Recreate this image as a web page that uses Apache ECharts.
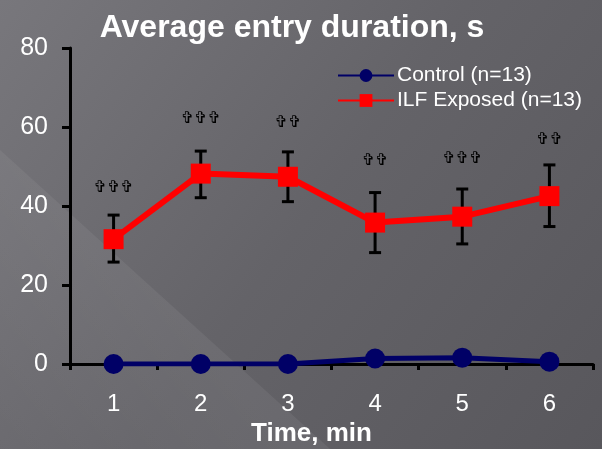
<!DOCTYPE html>
<html>
<head>
<meta charset="utf-8">
<script src="https://cdn.jsdelivr.net/npm/echarts@6/dist/echarts.min.js"></script>
<style>
  html, body { margin: 0; padding: 0; background: #626166; }
  #chart { width: 602px; height: 449px; }
</style>
</head>
<body>
<div id="chart"></div>
<script>
// Time bins (minutes)
const minutes = ['1', '2', '3', '4', '5', '6'];
// Average entry duration (s)
const controlMean = [0, 0, 0, 1.4, 1.6, 0.6];
const exposedMean = [31.6, 48.2, 47.4, 35.8, 37.3, 42.5];
// Error bar extents for the exposed group
const exposedUpper = [37.7, 53.9, 53.7, 43.4, 44.3, 50.4];
const exposedLower = [25.8, 42.1, 41.1, 28.2, 30.4, 34.8];
// Significance markers and their heights
const sigMarks = ['***', '***', '**', '**', '***', '**'];
const sigHeight = [44.6, 62, 61, 51.4, 51.9, 56.7];

const FONT = '"Liberation Sans", Arial, sans-serif';

const chart = echarts.init(document.getElementById('chart'), null, { renderer: 'canvas' });

const errorData = minutes.map((m, i) => [i, exposedLower[i], exposedUpper[i]]);
const sigData = minutes.map((m, i) => [i, sigHeight[i], sigMarks[i]]);

chart.setOption({
  backgroundColor: 'transparent',
  animation: false,
  graphic: [
    {
      type: 'rect', z: -10, silent: true,
      shape: { x: 0, y: 0, width: 602, height: 449 },
      style: {
        fill: new echarts.graphic.LinearGradient(0, 0, 1, 1, [
          { offset: 0, color: '#78777c' },
          { offset: 0.5, color: '#646368' },
          { offset: 1, color: '#58575c' }
        ])
      }
    },
    {
      type: 'polygon', z: -9, silent: true,
      shape: { points: [[0, 150], [330, 449], [0, 449]] },
      style: {
        fill: new echarts.graphic.LinearGradient(0.5, 0.5, 0, 1, [
          { offset: 0, color: 'rgba(255,255,255,0.06)' },
          { offset: 1, color: 'rgba(255,255,255,0.01)' }
        ])
      }
    }
  ],
  title: {
    text: 'Average entry duration, s',
    left: 287,
    top: 7,
    textAlign: 'center',
    textStyle: { color: '#ffffff', fontFamily: FONT, fontWeight: 'bold', fontSize: 32 }
  },
  legend: {
    orient: 'vertical',
    left: 337,
    top: 65,
    padding: 0,
    itemWidth: 56,
    itemHeight: 16,
    itemGap: 4,
    textStyle: { color: '#ffffff', fontFamily: FONT, fontSize: 21, padding: [0, 0, 0, -2] },
    data: ['Control (n=13)', 'ILF Exposed (n=13)']
  },
  grid: { left: 70, right: 9, top: 48, bottom: 85, outerBoundsMode: 'none', containLabel: false },
  xAxis: {
    type: 'category',
    data: minutes,
    boundaryGap: true,
    name: 'Time, min',
    nameLocation: 'middle',
    nameGap: 57,
    nameTextStyle: { color: '#ffffff', fontFamily: FONT, fontWeight: 'bold', fontSize: 26, padding: [0, 40, 0, 0] },
    axisLine: { lineStyle: { color: '#000000', width: 3 } },
    axisTick: { show: true, inside: false, length: 6, interval: 0, lineStyle: { color: '#000000', width: 3 } },
    axisLabel: { color: '#ffffff', fontFamily: FONT, fontSize: 24, margin: 28 },
    splitLine: { show: false }
  },
  yAxis: {
    type: 'value',
    min: 0,
    max: 80,
    interval: 20,
    axisLine: { show: true, lineStyle: { color: '#000000', width: 3 } },
    axisTick: { show: true, inside: false, length: 8, lineStyle: { color: '#000000', width: 3 } },
    axisLabel: { color: '#ffffff', fontFamily: FONT, fontSize: 25, margin: 22 },
    splitLine: { show: false }
  },
  series: [
    {
      name: 'exposed-error',
      type: 'custom',
      z: 3,
      silent: true,
      data: errorData,
      renderItem: function (params, api) {
        const x = api.value(0);
        const lo = api.coord([x, api.value(1)]);
        const hi = api.coord([x, api.value(2)]);
        const cap = 6;
        const style = { stroke: '#000000', lineWidth: 3 };
        return {
          type: 'group',
          children: [
            { type: 'line', shape: { x1: lo[0], y1: lo[1], x2: hi[0], y2: hi[1] }, style: style },
            { type: 'line', shape: { x1: hi[0] - cap, y1: hi[1], x2: hi[0] + cap, y2: hi[1] }, style: style },
            { type: 'line', shape: { x1: lo[0] - cap, y1: lo[1], x2: lo[0] + cap, y2: lo[1] }, style: style }
          ]
        };
      }
    },
    {
      name: 'ILF Exposed (n=13)',
      type: 'line',
      z: 5,
      data: exposedMean,
      symbol: 'rect',
      symbolSize: 20,
      itemStyle: { color: '#ff0000' },
      lineStyle: { color: '#ff0000', width: 6 }
    },
    {
      name: 'Control (n=13)',
      type: 'line',
      z: 6,
      data: controlMean,
      symbol: 'circle',
      symbolSize: 20,
      itemStyle: { color: '#000066' },
      lineStyle: { color: '#000066', width: 5 }
    },
    {
      name: 'significance',
      type: 'custom',
      z: 4,
      silent: true,
      data: sigData,
      renderItem: function (params, api) {
        const p = api.coord([api.value(0), api.value(1)]);
        const n = String(api.value(2)).length;
        const glyphs = '\u271E'.repeat(n);
        return {
          type: 'text',
          x: p[0],
          y: p[1],
          style: {
            text: glyphs,
            fill: '#000000',
            font: 'bold 16px "DejaVu Sans", sans-serif',
            align: 'center',
            verticalAlign: 'middle'
          }
        };
      }
    }
  ]
});
</script>
</body>
</html>
